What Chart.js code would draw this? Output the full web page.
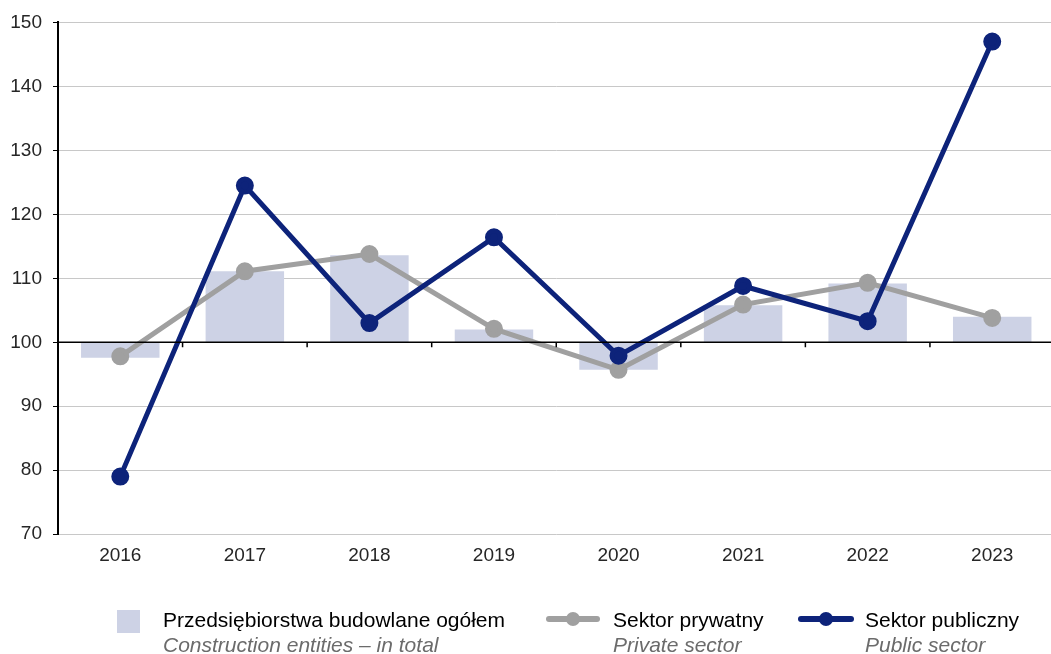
<!DOCTYPE html>
<html>
<head>
<meta charset="utf-8">
<script src="https://cdn.jsdelivr.net/npm/chart.js@4"></script>
<style>
  html, body { margin: 0; padding: 0; background: #fff; }
  #wrap { position: relative; width: 1051px; height: 654px; overflow: hidden; font-family: "Liberation Sans", Arial, sans-serif; }
  #myChart { position: absolute; left: 0; top: 0; }
  .leg { position: absolute; font-size: 21px; line-height: 25px; color: #000; white-space: nowrap; }
  .leg i { display: block; color: #6b6b6b; }
  .box { position: absolute; left: 117px; top: 610px; width: 23px; height: 23px; background: #cdd2e5; }
  .ln { position: absolute; height: 6px; border-radius: 3px; }
  .dot { position: absolute; width: 14px; height: 14px; border-radius: 50%; }
</style>
</head>
<body>
<div id="wrap">
  <!-- plotno szersze, bo Chart.js zostawia margines z prawej, a w oryginale obszar siega do krawedzi -->
  <canvas id="myChart" width="1066" height="654"></canvas>

  <div class="box"></div>
  <div class="leg" style="left:163px; top:607px;">Przedsiębiorstwa budowlane ogółem<i>Construction entities – in total</i></div>

  <div class="ln" style="left:546px; top:616px; width:54px; background:#a0a0a0;"></div>
  <div class="dot" style="left:566px; top:612px; background:#a0a0a0;"></div>
  <div class="leg" style="left:613px; top:607px;">Sektor prywatny<i>Private sector</i></div>

  <div class="ln" style="left:798px; top:616px; width:56px; background:#0d237a;"></div>
  <div class="dot" style="left:819px; top:612px; background:#0d237a;"></div>
  <div class="leg" style="left:865px; top:607px;">Sektor publiczny<i>Public sector</i></div>
</div>

<script>
// dane z wykresu
const years = ['2016', '2017', '2018', '2019', '2020', '2021', '2022', '2023'];
const ogolem = [97.6, 111.1, 113.6, 102.0, 95.7, 105.8, 109.2, 104.0];
const prywatny = [97.8, 111.1, 113.8, 102.1, 95.7, 105.9, 109.3, 103.8];
const publiczny = [79.0, 124.5, 103.0, 116.4, 97.9, 108.8, 103.3, 147.0];
const yTicks = [70, 80, 90, 100, 110, 120, 130, 140, 150];

const BASE = 100;

// kreski na osi 100 miedzy kategoriami
const baseTicks = {
    id: 'baseTicks',
    afterDatasetsDraw(chart) {
        const ctx = chart.ctx;
        const x = chart.scales.x;
        const y0 = chart.scales.y.getPixelForValue(BASE);
        ctx.save();
        ctx.strokeStyle = '#000';
        ctx.lineWidth = 1.5;
        ctx.beginPath();
        ctx.moveTo(chart.chartArea.left, y0);
        ctx.lineTo(chart.chartArea.right, y0);
        for (let i = 1; i < years.length; i++) {
            const px = (x.getPixelForValue(i - 1) + x.getPixelForValue(i)) / 2;
            ctx.moveTo(px, y0);
            ctx.lineTo(px, y0 + 5);
        }
        ctx.stroke();
        ctx.restore();
    }
};

const ctx = document.getElementById('myChart').getContext('2d');
const chart = new Chart(ctx, {
    data: {
        labels: years,
        datasets: [
            {
                type: 'line',
                label: 'Sektor publiczny',
                data: publiczny,
                borderColor: '#0d237a',
                backgroundColor: '#0d237a',
                borderWidth: 5,
                pointRadius: 6.5,
                pointHoverRadius: 6.5,
                tension: 0,
                order: 1
            },
            {
                type: 'line',
                label: 'Sektor prywatny',
                data: prywatny,
                borderColor: '#a0a0a0',
                backgroundColor: '#a0a0a0',
                borderWidth: 5,
                pointRadius: 6.5,
                pointHoverRadius: 6.5,
                tension: 0,
                order: 2
            },
            {
                type: 'bar',
                label: 'Przedsiębiorstwa budowlane ogółem',
                data: ogolem.map(v => [BASE, v]),
                backgroundColor: '#cdd2e5',
                borderWidth: 0,
                categoryPercentage: 1,
                barPercentage: 0.63,
                order: 3
            }
        ]
    },
    options: {
        responsive: false,
        animation: false,
        layout: { padding: { top: 21, right: 0, bottom: 77, left: 0 } },
        plugins: {
            legend: { display: false },
            tooltip: { enabled: false }
        },
        scales: {
            x: {
                grid: { display: false, drawTicks: false },
                border: { display: false },
                ticks: {
                    padding: 10,
                    color: '#262626',
                    font: { family: 'Liberation Sans', size: 19 }
                }
            },
            y: {
                min: 70,
                max: 150,
                afterBuildTicks: axis => { axis.ticks = yTicks.map(v => ({ value: v })); },
                afterFit: axis => { axis.width = 58; },
                grid: {
                    color: c => c.tick && c.tick.value === BASE ? '#000' : '#c8c8c8',
                    tickColor: '#000',
                    tickLength: 5,
                    lineWidth: 1
                },
                border: { display: true, color: '#000', width: 2 },
                ticks: {
                    padding: 11,
                    color: '#262626',
                    font: { family: 'Liberation Sans', size: 19 }
                }
            }
        }
    },
    plugins: [baseTicks]
});
</script>
</body>
</html>
